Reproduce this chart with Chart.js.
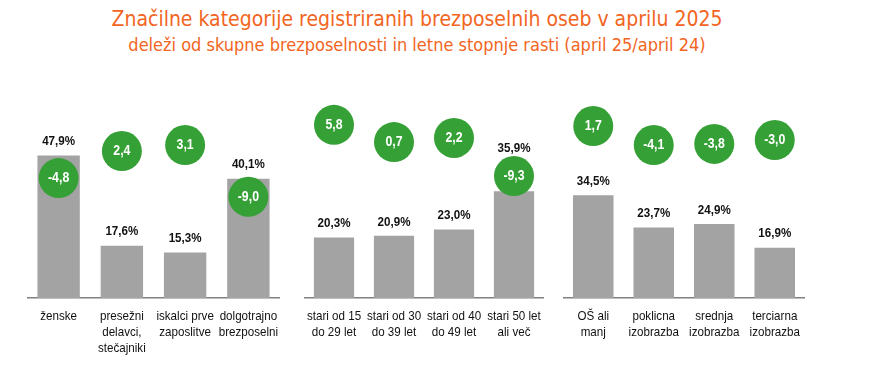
<!DOCTYPE html>
<html>
<head>
<meta charset="utf-8">
<script src="https://cdn.jsdelivr.net/npm/chart.js@4"></script>
<style>
  body { margin: 0; width: 885px; height: 386px; background: #fff; position: relative; overflow: hidden; }
  .title { position: absolute; left: 0; width: 834px; text-align: center; color: #f26522; font-family: "DejaVu Sans Condensed", "DejaVu Sans", sans-serif; white-space: nowrap; }
  #t1 { top: 7px; font-size: 21px; }
  #t2 { top: 34px; font-size: 18px; }
  .panel { position: absolute; top: 60px; height: 300px; }
</style>
</head>
<body>
<div class="title" id="t1">Značilne kategorije registriranih brezposelnih oseb v aprilu 2025</div>
<div class="title" id="t2">deleži od skupne brezposelnosti in letne stopnje rasti (april 25/april 24)</div>
<div class="panel" style="left:27px;width:253px"><canvas id="c1"></canvas></div>
<div class="panel" style="left:304px;width:240px"><canvas id="c2"></canvas></div>
<div class="panel" style="left:563px;width:242px"><canvas id="c3"></canvas></div>
<script>
// kategorije
const groupLabels = [['ženske'], ['presežni', 'delavci,', 'stečajniki'], ['iskalci prve', 'zaposlitve'], ['dolgotrajno', 'brezposelni']];
const ageLabels = [['stari od 15', 'do 29 let'], ['stari od 30', 'do 39 let'], ['stari od 40', 'do 49 let'], ['stari 50 let', 'ali več']];
const eduLabels = [['OŠ ali', 'manj'], ['poklicna', 'izobrazba'], ['srednja', 'izobrazba'], ['terciarna', 'izobrazba']];

// deleži (%)
const groupShare = [47.9, 17.6, 15.3, 40.1];
const ageShare = [20.3, 20.9, 23.0, 35.9];
const eduShare = [34.5, 23.7, 24.9, 16.9];

// letne stopnje rasti (%)
const groupGrowth = [-4.8, 2.4, 3.1, -9.0];
const ageGrowth = [5.8, 0.7, 2.2, -9.3];
const eduGrowth = [1.7, -4.1, -3.8, -3.0];

// višina krogov (v enotah osi)
const groupCircleAt = [40.3, 49.4, 51.4, 34.0];
const ageCircleAt = [58.2, 52.4, 53.8, 41.0];
const eduCircleAt = [57.8, 51.4, 51.8, 53.1];

const fmt = v => v.toFixed(1).replace('.', ',');
const font = '"Liberation Sans", Arial, sans-serif';

// ozka pisava (kot Arial Narrow)
function narrowText(ctx, text, x, y, sx) {
    ctx.save();
    ctx.translate(x, y);
    ctx.scale(sx, 1);
    ctx.fillText(text, 0, 0);
    ctx.restore();
}

const labelPlugin = {
    id: 'labels',
    afterDatasetsDraw(chart) {
        const ctx = chart.ctx;
        const bars = chart.getDatasetMeta(0).data;
        const dots = chart.getDatasetMeta(1).data;
        const growth = chart.config.options.growth;
        const xScale = chart.scales.x;
        ctx.save();
        ctx.textAlign = 'center';
        ctx.textBaseline = 'middle';
        ctx.font = 'bold 13.5px ' + font;
        ctx.fillStyle = '#111';
        bars.forEach((bar, i) => {
            let y = bar.y - 14;
            // če krog prekriva vrh stolpca, gre oznaka nad krog
            if (dots[i].y > bar.y - 30) y = Math.min(y, dots[i].y - 28);
            narrowText(ctx, fmt(chart.data.datasets[0].data[i]) + '%', bar.x, y, 0.86);
        });
        ctx.fillStyle = '#fff';
        ctx.font = 'bold 14px ' + font;
        dots.forEach((dot, i) => {
            narrowText(ctx, fmt(growth[i]), dot.x, dot.y, 0.88);
        });
        // oznake kategorij
        ctx.fillStyle = '#111';
        ctx.font = '13.5px ' + font;
        chart.data.labels.forEach((lines, i) => {
            const x = xScale.getPixelForTick(i);
            lines.forEach((line, j) => {
                narrowText(ctx, line, x, xScale.top + 18 + j * 16, 0.86);
            });
        });
        ctx.restore();
    }
};

function makeChart(id, labels, share, growth, circleAt) {
    const ctx = document.getElementById(id).getContext('2d');
    return new Chart(ctx, {
        data: {
            labels: labels,
            datasets: [{
                type: 'bar',
                data: share,
                backgroundColor: '#a3a3a3',
                barPercentage: 0.67,
                categoryPercentage: 1,
                order: 2
            }, {
                type: 'line',
                data: circleAt,
                showLine: false,
                pointRadius: 20,
                pointHoverRadius: 20,
                pointBackgroundColor: '#35a035',
                pointBorderWidth: 0,
                clip: false,
                order: 1
            }]
        },
        options: {
            growth: growth,
            responsive: true,
            maintainAspectRatio: false,
            animation: false,
            layout: { padding: 0, autoPadding: false },
            plugins: { legend: { display: false }, tooltip: { enabled: false } },
            scales: {
                x: {
                    offset: true,
                    grid: { display: false },
                    border: { color: '#808080', width: 1.5 },
                    ticks: { display: false },
                    afterFit(scale) { scale.height = 62; }
                },
                y: { display: false, min: 0, max: 80 }
            }
        },
        plugins: [labelPlugin]
    });
}

makeChart('c1', groupLabels, groupShare, groupGrowth, groupCircleAt);
makeChart('c2', ageLabels, ageShare, ageGrowth, ageCircleAt);
makeChart('c3', eduLabels, eduShare, eduGrowth, eduCircleAt);
</script>
</body>
</html>
